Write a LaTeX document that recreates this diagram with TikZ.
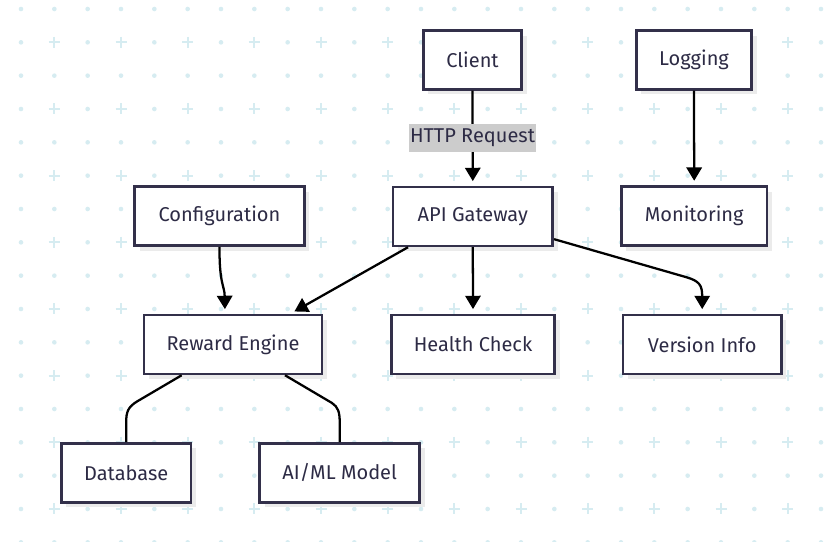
\documentclass[tikz,border=0pt]{standalone}
\usepackage{fontspec}
\setmainfont{Fira Sans}
\usetikzlibrary{arrows.meta,shadows}
\definecolor{gridc}{HTML}{D6ECF1}
\definecolor{boxline}{HTML}{33304A}
\definecolor{boxtext}{HTML}{2D2B45}
\definecolor{lblbg}{HTML}{CCCCCC}
\begin{document}
\begin{tikzpicture}[x=0.75pt,y=-0.75pt,
  box/.style={draw=boxline, line width=2pt, fill=white, text=boxtext,
    minimum height=44.1pt, inner sep=0pt, font=\fontsize{15}{18}\selectfont,
    drop shadow={shadow xshift=3.8pt, shadow yshift=-3.8pt, fill=black!8, opacity=1}},
  conn/.style={line width=1.7pt, black},
  arr/.style={conn, -{Triangle[length=10pt,width=11.5pt]}, shorten >=3.5pt},
  lbl/.style={fill=lblbg, text=boxtext, minimum width=95pt, minimum height=21pt, inner sep=0pt,
    font=\fontsize{15}{18}\selectfont}
]
\useasboundingbox[fill=white] (0,0) rectangle (825,542);
% background grid
\foreach \i in {0,2,...,24}{\foreach \j in {0,...,16}{
  \fill[gridc] ({21+33.333*\i},{9+33.333*\j}) circle[radius=2.3];}}
\foreach \i in {1,3,...,23}{\foreach \j in {0,2,...,16}{
  \fill[gridc] ({21+33.333*\i},{9+33.333*\j}) circle[radius=2.3];}}
\foreach \i in {1,3,...,23}{\foreach \j in {1,3,...,15}{
  \draw[gridc, line width=1.6pt] ({21+33.333*\i-5.5},{9+33.333*\j}) -- ++(11,0)
    ({21+33.333*\i},{9+33.333*\j-5.5}) -- ++(0,11);}}
% nodes
\node[box, minimum width=73.7pt]  (client) at (472.5,60)  {Client};
\node[box, minimum width=86.5pt]  (log)    at (694,60)    {Logging};
\node[box, minimum width=119.9pt] (api)    at (472.8,216.5) {API Gateway};
\node[box, minimum width=127.3pt] (conf)   at (219.5,216.2) {Configuration};
\node[box, minimum width=109.2pt] (mon)    at (694.2,216.2) {Monitoring};
\node[box, minimum width=133.4pt] (rew)    at (233,344.5) {Reward Engine};
\node[box, minimum width=122.5pt] (health) at (473,344.5) {Health Check};
\node[box, minimum width=118.7pt] (ver)    at (702.2,344.5) {Version Info};
\node[box, minimum width=97.2pt]  (db)     at (126.2,472.8) {Database};
\node[box, minimum width=120pt]   (ai)     at (339.7,472.8) {AI/ML Model};
% connectors
\draw[arr] (client.south) -- (api.north);
\node[lbl] (http) at (472.5,138) {HTTP Request};
\draw[arr] (log.south) -- (mon.north);
\draw[arr] (conf.south) .. controls (219.3,285) and (224.5,285) .. ([xshift=-6pt]rew.north);
\draw[arr] ([xshift=-48.6pt]api.south) -- ([xshift=43pt]rew.north);
\draw[arr] (api.south) -- (health.north);
\draw[arr] ([yshift=-17pt]api.east) -- (686.7,277.3) .. controls (699,281) and (702.2,285) .. (702.2,296) -- (ver.north);
\draw[conn] ([xshift=-38.5pt]rew.south) -- (137,401.5) .. controls (128,407) and (126.2,412) .. (126.2,422) -- (db.north);
\draw[conn] ([xshift=39pt]rew.south) -- (332,403) .. controls (338,407) and (339.7,412) .. (339.7,422) -- (ai.north);
\end{tikzpicture}
\end{document}
